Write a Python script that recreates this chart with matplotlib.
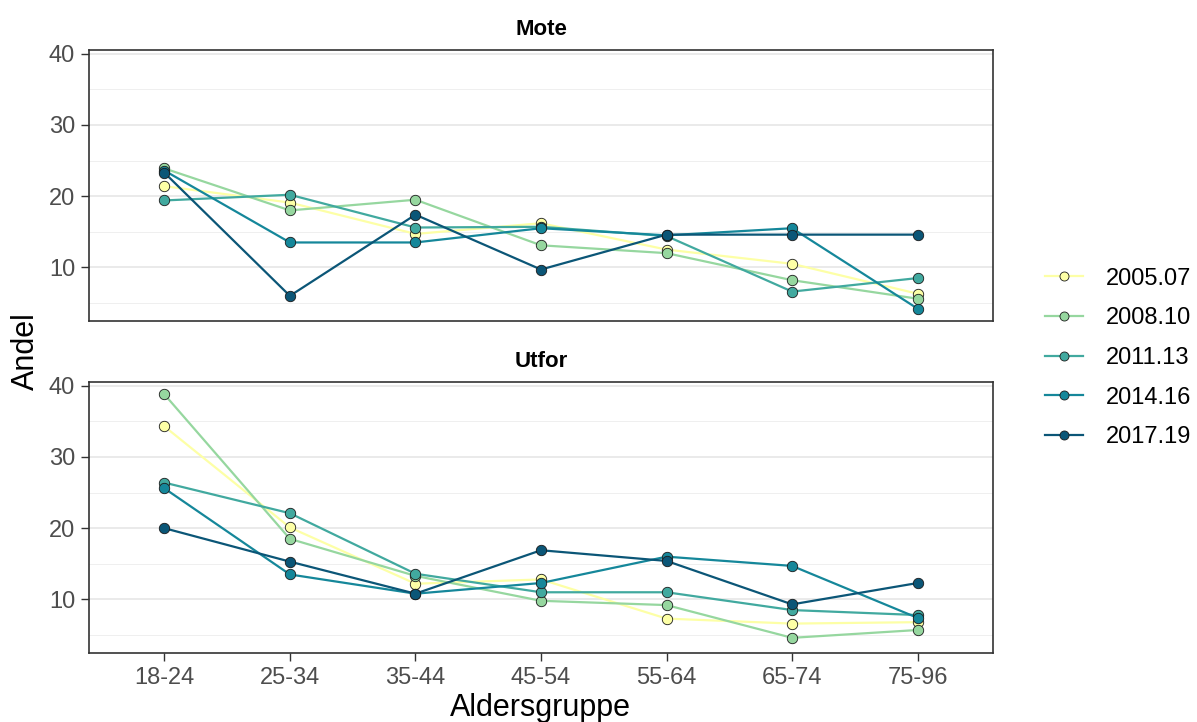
import matplotlib
matplotlib.use('Agg')
import matplotlib.pyplot as plt
from matplotlib.lines import Line2D
from matplotlib.ticker import MultipleLocator

plt.rcParams['font.family'] = ['Liberation Sans', 'DejaVu Sans']

age_groups = ['18-24', '25-34', '35-44', '45-54', '55-64', '65-74', '75-96']
periods = ['2005.07', '2008.10', '2011.13', '2014.16', '2017.19']
colors = ['#FDFFA6', '#96D79F', '#41A99F', '#15879A', '#0B5677']

mote = {
    '2005.07': [21.4, 19.1, 14.7, 16.2, 12.5, 10.5, 6.3],
    '2008.10': [23.9, 18.0, 19.5, 13.1, 12.0, 8.2, 5.6],
    '2011.13': [19.4, 20.2, 15.6, 15.7, 14.4, 6.6, 8.5],
    '2014.16': [23.6, 13.5, 13.5, 15.5, 14.5, 15.5, 4.2],
    '2017.19': [23.3, 6.0, 17.4, 9.7, 14.6, 14.6, 14.6],
}
utfor = {
    '2005.07': [34.3, 20.1, 12.2, 12.8, 7.3, 6.6, 6.8],
    '2008.10': [38.8, 18.5, 13.3, 9.8, 9.2, 4.6, 5.7],
    '2011.13': [26.4, 22.1, 13.6, 11.0, 11.0, 8.5, 7.8],
    '2014.16': [25.6, 13.5, 10.8, 12.3, 16.0, 14.7, 7.4],
    '2017.19': [20.0, 15.3, 10.8, 16.9, 15.4, 9.3, 12.3],
}
panels = [('Mote', mote), ('Utfor', utfor)]

W, H = 1197, 722
fig = plt.figure(figsize=(W / 100, H / 100), dpi=100)

def px_axes(left, top, right, bottom):
    return fig.add_axes([left / W, 1 - bottom / H, (right - left) / W, (bottom - top) / H])

axes = [px_axes(89, 50, 993, 321), px_axes(89, 382, 993, 653)]

all_vals = [v for _, d in panels for s in d.values() for v in s]
lo, hi = min(all_vals), max(all_vals)
pad = (hi - lo) * 0.05
x = list(range(len(age_groups)))

for ax, (title, data) in zip(axes, panels):
    for p, c in zip(periods, colors):
        ax.plot(x, data[p], color=c, lw=1.6, zorder=2, solid_capstyle='butt')
    for p, c in zip(periods, colors):
        ax.plot(x, data[p], ls='none', marker='o', ms=7.5, mfc=c, mec='#1a1a1a',
                mew=0.6, zorder=3)
    ax.set_xlim(-0.6, len(age_groups) - 0.4)
    ax.set_ylim(lo - pad, hi + pad)
    ax.yaxis.set_major_locator(MultipleLocator(10))
    ax.yaxis.set_minor_locator(MultipleLocator(5))
    ax.grid(True, which='major', axis='y', color='#E6E6E6', lw=1.2)
    ax.grid(True, which='minor', axis='y', color='#EFEFEF', lw=0.7)
    ax.set_axisbelow(True)
    ax.tick_params(axis='y', which='minor', length=0)
    ax.tick_params(which='major', length=6, width=1, color='#333333',
                   labelsize=17, labelcolor='#4D4D4D', pad=4)
    ax.set_xticks(x)
    for s in ax.spines.values():
        s.set_color('#333333')
        s.set_linewidth(1.2)
    ax.set_title(title, fontsize=16, fontweight='bold', pad=11)

axes[0].set_xticklabels([])
axes[0].tick_params(axis='x', length=0)
axes[1].set_xticklabels(age_groups)

fig.text(540 / W, 1 - 708 / H, 'Aldersgruppe', fontsize=22, ha='center', va='center')
fig.text(26 / W, 1 - 351 / H, 'Andel', fontsize=22, rotation=90, ha='center', va='center')

handles = [Line2D([0], [0], color=c, lw=1.6, marker='o', ms=6.5, mfc=c, mec='#1a1a1a', mew=0.6)
           for c in colors]
fig.legend(handles, periods, loc='center left', bbox_to_anchor=(1036 / W, 1 - 358 / H),
           frameon=False, fontsize=17, handlelength=1.6, handletextpad=0.95,
           labelspacing=0.75, borderaxespad=0)

fig.savefig('out.png', dpi=100)
